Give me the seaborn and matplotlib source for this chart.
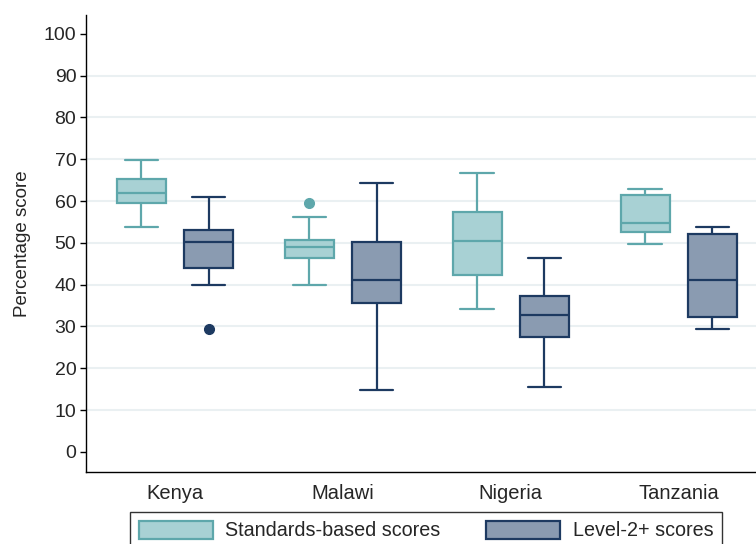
import pandas as pd
import seaborn as sns
import matplotlib.pyplot as plt
from matplotlib.patches import Patch

# box summaries: low whisker, q1, median, q3, high whisker
countries = ["Kenya", "Malawi", "Nigeria", "Tanzania"]
series = ["Standards-based scores", "Level-2+ scores"]

std_low = [53.8, 39.9, 34.3, 49.8]
std_q1 = [59.6, 46.5, 42.2, 52.7]
std_med = [62.0, 49.1, 50.5, 54.7]
std_q3 = [65.2, 50.7, 57.5, 61.5]
std_high = [69.8, 56.2, 66.7, 62.8]

lvl_low = [39.9, 14.9, 15.6, 29.5]
lvl_q1 = [44.1, 35.6, 27.4, 32.2]
lvl_med = [50.2, 41.2, 32.7, 41.1]
lvl_q3 = [53.0, 50.2, 37.2, 52.2]
lvl_high = [61.0, 64.4, 46.3, 53.8]

# outside values: (country, series, value)
outliers = [("Kenya", "Level-2+ scores", 29.5),
            ("Malawi", "Standards-based scores", 59.5)]

fills = {"Standards-based scores": "#a8d1d4", "Level-2+ scores": "#8a9bb1"}
edges = {"Standards-based scores": "#5ea7ab", "Level-2+ scores": "#1d3a61"}


def box_points(lo, q1, med, q3, hi, out):
    # nine points whose quartiles give exactly the drawn box
    pts = [lo, lo, q1, q1, med, q3, q3, hi, hi]
    for v in out:
        if v < lo:
            pts[0] = v
        else:
            pts[-1] = v
    return pts


rows = []
stats = {series[0]: (std_low, std_q1, std_med, std_q3, std_high),
         series[1]: (lvl_low, lvl_q1, lvl_med, lvl_q3, lvl_high)}
for s in series:
    lo, q1, med, q3, hi = stats[s]
    for i, c in enumerate(countries):
        out = [v for (oc, os_, v) in outliers if oc == c and os_ == s]
        for v in box_points(lo[i], q1[i], med[i], q3[i], hi[i], out):
            rows.append({"country": c, "series": s, "score": v})
df = pd.DataFrame(rows)

sns.set_style("white")
plt.rcParams["font.family"] = ["Liberation Sans", "DejaVu Sans"]
plt.rcParams["font.size"] = 14

fig = plt.figure(figsize=(7.56, 5.44), dpi=100)
ax = fig.add_axes([0.1138, 0.1324, 0.8862, 0.84])

for s in series:
    sub = df[df["series"] == s]
    sns.boxplot(data=sub, x="country", y="score", hue="series",
                order=countries, hue_order=series, palette=fills,
                saturation=1, dodge=True, width=0.8, gap=0.27, whis=1.6,
                linecolor=edges[s], linewidth=1.6, capwidths=0.2,
                flierprops=dict(marker="o", markerfacecolor=edges[s],
                                markeredgecolor=edges[s], markersize=7),
                legend=False, ax=ax)

ax.set_xlim(-0.53, 3.46)
ax.set_ylim(-4.8, 104.5)
ax.set_yticks(range(0, 101, 10))
ax.set_xlabel("")
ax.set_ylabel("Percentage score", labelpad=9, fontsize=13.5)

ax.yaxis.grid(True, color="#eaf0f2", linewidth=1.5)
ax.set_axisbelow(True)
gl = ax.get_ygridlines()
gl[0].set_visible(False)
gl[-1].set_visible(False)

for side in ["top", "right"]:
    ax.spines[side].set_visible(False)
for side in ["left", "bottom"]:
    ax.spines[side].set_color("black")
    ax.spines[side].set_linewidth(1.0)
ax.tick_params(axis="y", left=True, length=4, width=1, color="black", pad=3,
               labelsize=14)
ax.tick_params(axis="x", bottom=False, length=0, pad=9, labelsize=14.5)

handles = [Patch(facecolor=fills[s], edgecolor=edges[s], linewidth=1.6) for s in series]
fig.legend(handles, series, loc="upper center", bbox_to_anchor=(0.5635, 0.0588),
           ncol=2, frameon=True, fancybox=False, edgecolor="black",
           fontsize=14.2, handlelength=3.75, handleheight=1.0,
           handletextpad=0.65, columnspacing=2.3, borderpad=0.45,
           borderaxespad=0)

fig.savefig("out.png", dpi=100)
